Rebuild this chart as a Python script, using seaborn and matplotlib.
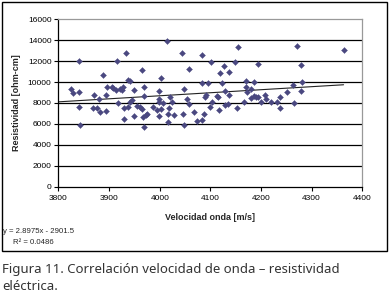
import numpy as np
import pandas as pd
import matplotlib
matplotlib.use("Agg")
import matplotlib.pyplot as plt
import seaborn as sns
from matplotlib.patches import Rectangle

# datos
velocidad = [3825, 3829, 3841, 3841, 3840, 3842, 3871, 3869, 3876, 3880,
             3882, 3887, 3894, 3894, 3896, 3905, 3908, 3913, 3916, 3917,
             3921, 3925, 3928, 3929, 3930, 3933, 3938, 3937, 3941, 3942,
             3945, 3949, 3950, 3955, 3960, 3964, 3965, 3969, 3969, 3967,
             3969, 3972, 3975, 3987, 3995, 3998, 3998, 3999, 3998, 4003,
             4003, 4006, 4014, 4016, 4016, 4019, 4021, 4025, 4029, 4044,
             4045, 4048, 4048, 4053, 4058, 4058, 4068, 4073, 4083, 4083,
             4084, 4088, 4090, 4092, 4096, 4099, 4102, 4104, 4114, 4116,
             4117, 4119, 4123, 4127, 4129, 4129, 4135, 4137, 4137, 4149,
             4152, 4155, 4167, 4170, 4173, 4171, 4181, 4181, 4186, 4186,
             4191, 4194, 4194, 4200, 4208, 4209, 4220, 4232, 4237, 4238,
             4252, 4263, 4266, 4271, 4278, 4279, 4281, 4363]
resistividad = [9340, 8930, 12020, 9020, 7590, 5870, 8770, 7500, 7560, 8380,
                7140, 10680, 8770, 7240, 9560, 9500, 9410, 9250, 12020, 7970,
                9310, 9250, 9560, 7500, 6500, 12810, 7650, 10200, 10110, 8130,
                8290, 6790, 9250, 7720, 7590, 7400, 11160, 9560, 8670, 6690,
                5740, 6850, 6920, 7650, 7330, 9150, 8360, 8070, 6790, 10360,
                7430, 8030, 13960, 6950, 6210, 7500, 8550, 8130, 6850, 12810,
                6920, 5900, 9340, 8360, 11220, 7910, 7110, 6310, 12560, 9900,
                6350, 6920, 8550, 8770, 9890, 7590, 11920, 8130, 8700, 8550,
                7300, 10840, 9890, 11540, 9180, 7810, 7910, 8770, 10990, 11920,
                7550, 13330, 8130, 9500, 9080, 10110, 9310, 8450, 9980, 8670,
                8550, 11760, 8600, 8070, 8800, 8360, 8130, 8070, 8610, 7550,
                9080, 9720, 7970, 13480, 11600, 9180, 10040, 13100]

# linea de tendencia (Excel)
pendiente = 2.8975
intercepto = -2901.5
r2 = 0.0486

df = pd.DataFrame({'vel': velocidad, 'res': resistividad})

sns.set_style('white')
plt.rcParams['font.family'] = ['Liberation Sans', 'DejaVu Sans']

fig = plt.figure(figsize=(3.91, 2.99), dpi=100)
ax = fig.add_axes([0.1496, 0.3756, 0.777, 0.56])

# marco exterior del grafico
fig.add_artist(Rectangle((1.5 / 391, 1 - 251 / 299), 385 / 391, 249 / 299,
                         transform=fig.transFigure, fill=False,
                         edgecolor='black', linewidth=1.0))

for g in range(2000, 16000, 2000):
    ax.axhline(g, color='black', linewidth=0.9, zorder=1)

sns.scatterplot(data=df, x='vel', y='res', marker='D', s=9,
                color='#4A4880', edgecolor='#4A4880', linewidth=0.3,
                ax=ax, zorder=3)

xl = np.array([3800, max(velocidad)])
ax.plot(xl, pendiente * xl + intercepto, color='#222222', linewidth=0.8, zorder=2)

ax.set_xlim(3800, 4400)
ax.set_ylim(0, 16000)
ax.set_xticks(range(3800, 4401, 100))
ax.set_yticks(range(0, 16001, 2000))
ax.tick_params(axis='both', labelsize=6, length=3, width=0.8, direction='out',
               colors='black', pad=2)
ax.tick_params(axis='x', bottom=True, pad=3)
ax.tick_params(axis='y', left=True)

for s in ['left', 'bottom']:
    ax.spines[s].set_color('black')
    ax.spines[s].set_linewidth(0.9)
for s in ['top', 'right']:
    ax.spines[s].set_color('#999999')
    ax.spines[s].set_linewidth(0.9)

ax.set_xlabel('Velocidad onda [m/s]', fontsize=6.5, fontweight='bold', labelpad=8)
ax.set_ylabel('Resistividad [ohm-cm]', fontsize=6.5, fontweight='bold', labelpad=5)

fig.text(3 / 391, 1 - 231.5 / 299, f'y = {pendiente}x - {abs(intercepto)}',
         fontsize=5.6, ha='left', va='center')
fig.text(13 / 391, 1 - 242.5 / 299, f'R² = {r2}',
         fontsize=5.6, ha='left', va='center')

fig.text(2 / 391, 1 - 269 / 299,
         'Figura 11. Correlación velocidad de onda – resistividad',
         fontsize=9.5, ha='left', va='center', color='#333333',
         family=['Noto Sans', 'DejaVu Sans'])
fig.text(2 / 391, 1 - 286 / 299, 'eléctrica.',
         fontsize=9.5, ha='left', va='center', color='#333333',
         family=['Noto Sans', 'DejaVu Sans'])

fig.savefig('out.png', dpi=100)
